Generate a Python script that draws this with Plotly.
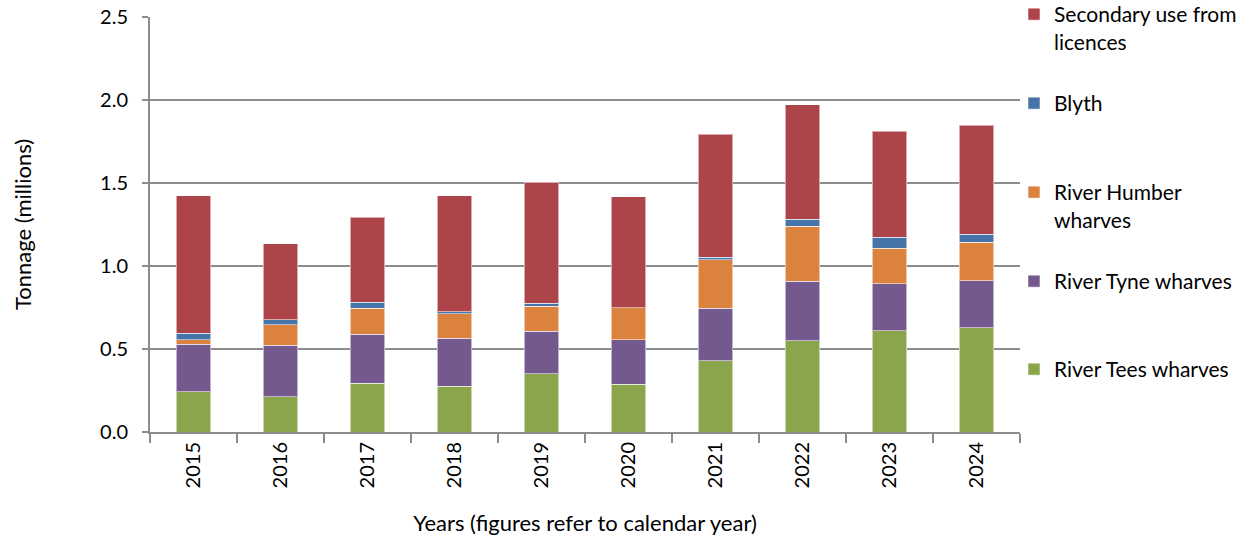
import plotly.graph_objects as go

years = ["2015", "2016", "2017", "2018", "2019", "2020", "2021", "2022", "2023", "2024"]
tees = [0.243, 0.211, 0.295, 0.277, 0.351, 0.289, 0.429, 0.551, 0.609, 0.627]
tyne = [0.285, 0.311, 0.295, 0.289, 0.257, 0.268, 0.316, 0.357, 0.285, 0.285]
humber = [0.028, 0.123, 0.155, 0.145, 0.151, 0.193, 0.293, 0.332, 0.212, 0.232]
blyth = [0.040, 0.030, 0.038, 0.012, 0.018, 0.0, 0.016, 0.041, 0.066, 0.046]
secondary = [0.828, 0.458, 0.510, 0.701, 0.728, 0.666, 0.741, 0.691, 0.639, 0.659]

series = [
    ("River Tees wharves", tees, "#8aa54c", "legend5"),
    ("River Tyne wharves", tyne, "#73598e", "legend4"),
    ("River Humber<br>wharves", humber, "#db823e", "legend3"),
    ("Blyth", blyth, "#4674a9", "legend2"),
    ("Secondary use from<br>licences", secondary, "#ad444a", "legend"),
]

FONT = "Lato, 'Open Sans', sans-serif"
GRID = "#8c8c8c"
W, H = 1254, 536

fig = go.Figure()
for name, vals, color, lg in series:
    fig.add_trace(go.Bar(
        x=years, y=vals, name=name, legend=lg,
        marker=dict(color=color, line=dict(color="rgba(255,255,255,0.55)", width=1)),
    ))

legend_common = dict(
    xref="paper", yref="paper",
    x=0.9931, xanchor="left", yanchor="top", valign="top",
    font=dict(family=FONT, size=21, color="#000000"),
    bgcolor="rgba(0,0,0,0)", itemwidth=30, tracegroupgap=0,
)
legend_y = {"legend": 1.0554, "legend2": 0.8410, "legend3": 0.6265, "legend4": 0.4120, "legend5": 0.2000}
layout_legends = {k: dict(legend_common, y=v) for k, v in legend_y.items()}

fig.update_layout(
    width=W, height=H,
    margin=dict(l=150, r=234, t=17, b=104, autoexpand=False),
    paper_bgcolor="white", plot_bgcolor="white",
    barmode="stack", bargap=0.6,
    font=dict(family=FONT, size=19, color="#000000"),
    showlegend=True,
    **layout_legends,
)

fig.update_xaxes(
    type="category", tickson="boundaries", ticks="outside", ticklen=9,
    tickcolor=GRID, tickwidth=2, showline=True, linecolor=GRID, linewidth=2,
    tickangle=-90, tickfont=dict(family=FONT, size=20),
    title=dict(text="Years (figures refer to calendar year)", font=dict(family=FONT, size=22), standoff=29),
    showgrid=False,
)
fig.update_yaxes(
    range=[0, 2.5], dtick=0.5, tickformat=".1f",
    showgrid=True, gridcolor=GRID, gridwidth=2,
    showline=True, linecolor=GRID, linewidth=2,
    ticks="outside", ticklen=6, tickcolor=GRID, tickwidth=2,
    tickfont=dict(family=FONT, size=20),
    ticklabelstandoff=10, ticklabeloverflow="allow",
    title=dict(text="Tonnage (millions)", font=dict(family=FONT, size=22), standoff=62),
    zeroline=False,
)

fig.write_html(
    "out.html",
    config={"displayModeBar": False},
    post_script="document.body.style.margin='0px';",
)
